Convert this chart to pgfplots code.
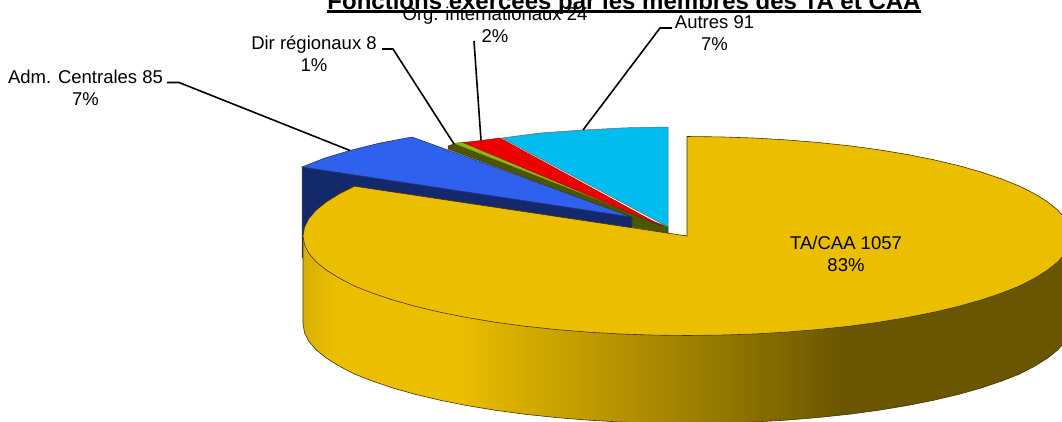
\documentclass[border=0pt]{standalone}
\usepackage{pgfplots}
\pgfplotsset{compat=1.18}
\usepackage{fontspec}
\setmainfont{Liberation Sans}
\definecolor{yel}{RGB}{235,190,0}
\definecolor{yedge}{RGB}{70,52,0}
\definecolor{blu}{RGB}{48,96,238}
\definecolor{dblu}{RGB}{20,41,107}
\definecolor{grn}{RGB}{140,183,13}
\definecolor{olv}{RGB}{74,86,0}
\definecolor{rd}{RGB}{236,0,0}
\definecolor{cy}{RGB}{0,188,239}
\pgfdeclarehorizontalshading{sideshade}{100bp}{
 color(0bp)=(yel!92!black); color(25bp)=(yel!92!black); color(27bp)=(yel); color(35bp)=(yel);
 color(60.4bp)=(yel!45!black); color(100bp)=(yel!45!black)}
\newcommand{\lab}{\fontsize{18.5}{22}\selectfont}
\begin{document}
\begin{tikzpicture}
\path[use as bounding box,clip] (0,0) rectangle (1062pt,421pt);
\begin{axis}[anchor=south west,at={(0,0)},scale only axis,width=1062pt,height=421pt,
 xmin=0,xmax=1062,ymin=0,ymax=421,y dir=reverse,hide axis]
% blue wall and top
\addplot[draw=black!70,line width=.5pt,fill=dblu] coordinates {(302,167)(632,217)(632,232)(400,232)(302,258)} --cycle;
\addplot[draw=dblu,line width=.5pt,fill=blu] coordinates {(302,167)(325,158)(350,150.5)(380,143)(412,137)(632,217)} --cycle;
% olive wall
\addplot[draw=olv!70!black,line width=.5pt,fill=olv] coordinates {(448,149)(448,146)(454,144)(633,214)(668,227)(668,233)(632,227)(632,217)} --cycle;
\addplot[draw=olv,line width=.3pt,fill=grn] coordinates {(454,143.5)(463,142)(652,221)} --cycle;
\addplot[draw=rd!70!black,line width=.4pt,fill=rd] coordinates {(463,142.5)(481,140.5)(500,138)(662,226)} --cycle;
\addplot[draw=black!60,line width=.5pt,fill=cy] coordinates {(502,138)(540,133)(583,130)(625,127.8)(668,127)(668,227)} --cycle;
% yellow side
\addplot[draw=yedge,line width=.6pt,shade,shading=sideshade] coordinates {
(1071,236)(1071,324)(1069.5,332.7)(1065.2,341.3)(1057.9,349.8)(1047.8,358)(1035,366)(1019.6,374)(1001.6,381.1)(981.1,388)(958.5,394.4)(933.8,400.2)(907.3,405.5)(879,410.2)(849.3,414.2)(818.3,417.5)(786.4,420.1)(753.7,422)(720.5,423.1)(687,423.5)
(653.5,423.1)(620.3,422)(587.6,420.1)(555.7,417.5)(524.7,414.2)(495,410.2)(466.7,405.5)(440.2,400.2)(415.5,394.4)(392.9,388)(372.4,381.1)(354.4,374)(339,366)(326.2,358)(316.1,349.8)(308.8,341.3)(304.5,332.7)(303,324)(303,236)} --cycle;
% yellow top
\addplot[draw=yedge,line width=.6pt,fill=yel] coordinates {
(687,236)(687,136.5)(720.5,136.9)(753.7,138)(786.4,139.9)(818.3,142.5)(849.3,145.8)(879,149.8)(907.3,154.5)(933.8,159.8)(958.5,165.6)(981.1,172)(1001.6,178.9)(1019.6,186.2)(1035,194)(1047.8,202)(1057.9,210.2)(1065.2,218.7)(1069.5,227.3)(1071,236)
(1069.5,244.7)(1065.2,253.3)(1057.9,261.8)(1047.8,270)(1035,278)(1019.6,286)(1001.6,293.1)(981.1,300)(958.5,306.4)(933.8,312.2)(907.3,317.5)(879,322.2)(849.3,326.2)(818.3,329.5)(786.4,332.1)(753.7,334)(720.5,335.1)(687,335.5)
(653.5,335.1)(620.3,334)(587.6,332.1)(555.7,329.5)(524.7,326.2)(495,322.2)(466.7,317.5)(440.2,312.2)(415.5,306.4)(392.9,300)(372.4,293.1)(354.4,286)(339,278)(326.2,270)(316.1,261.8)(308.8,253.3)(304.5,244.7)(303,236)(304.5,227.3)(308.8,218.7)(316.1,210.2)(326.2,202)(339,194)(354.4,186.2)} --cycle;
% leaders
\addplot[black,line width=1.6pt] coordinates {(167,82.5)(179,82.5)(350,150.5)};
\addplot[black,line width=1.6pt] coordinates {(382,49)(393,49)(454,144)};
\addplot[black,line width=1.6pt] coordinates {(474,41)(481,140.5)};
\addplot[black,line width=1.6pt] coordinates {(672,28)(660,28)(583,130)};
% labels
\node[align=center,inner sep=0pt,font=\lab] at (axis cs:85.5,88) {Adm. Centrales 85\\7\%};
\node[align=center,inner sep=0pt,font=\lab] at (axis cs:314,54) {Dir régionaux 8\\1\%};
\node[align=center,inner sep=0pt,font=\lab] at (axis cs:495,25) {Org. internationaux 24\\2\%};
\node[align=center,inner sep=0pt,font=\lab] at (axis cs:714.5,33.5) {Autres 91\\7\%};
\node[align=center,inner sep=0pt,font=\lab] at (axis cs:846,254) {TA/CAA 1057\\83\%};
\node[anchor=base,inner sep=0pt,font=\fontsize{24}{28}\selectfont\bfseries] at (axis cs:624,9) {Fonctions exercées par les membres des TA et CAA};
\addplot[black,line width=2.6pt] coordinates {(327,11.4)(921,11.4)};
\end{axis}
\end{tikzpicture}
\end{document}
